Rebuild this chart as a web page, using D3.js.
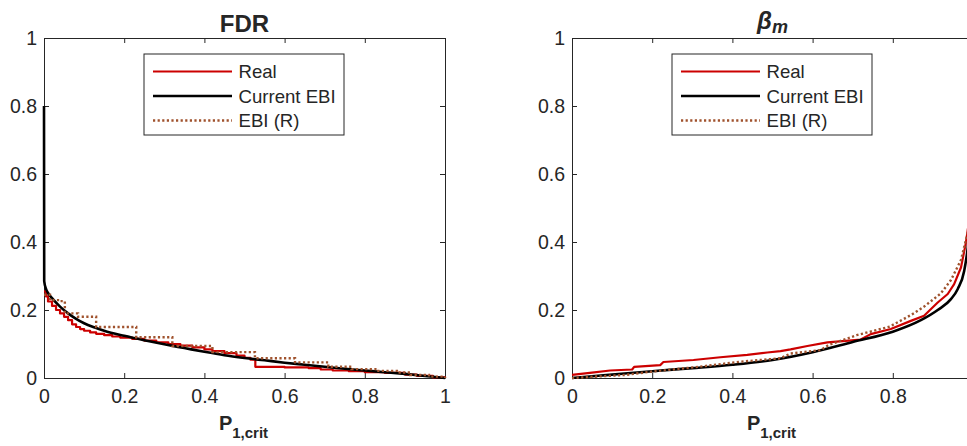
<!DOCTYPE html>
<html>
<head>
<meta charset="utf-8">
<script src="https://cdn.jsdelivr.net/npm/d3@7"></script>
<style>
  html, body { margin: 0; padding: 0; background: #fff; overflow: hidden; }
  svg { display: block; }
  text { font-family: "Liberation Sans", Arial, sans-serif; fill: #262626; }
</style>
</head>
<body>
<svg id="chart" width="967" height="446"></svg>
<script>
// ---------------- data ----------------
const xTicks = [0, 0.2, 0.4, 0.6, 0.8, 1];
const yTicks = [0, 0.2, 0.4, 0.6, 0.8, 1];
const tickLabels = ["0", "0.2", "0.4", "0.6", "0.8", "1"];
const seriesNames = ["Real", "Current EBI", "EBI (R)"];

// Left panel: FDR vs P1,crit
const fdrReal = [[0,0.255],[0.005,0.24],[0.01,0.225],[0.02,0.212],[0.03,0.2],[0.04,0.19],[0.05,0.18],
  [0.06,0.17],[0.07,0.158],[0.08,0.15],[0.09,0.144],[0.1,0.139],[0.115,0.134],[0.13,0.13],[0.15,0.126],
  [0.17,0.122],[0.19,0.119],[0.22,0.115],[0.25,0.11],[0.28,0.105],[0.31,0.1],[0.34,0.095],[0.37,0.09],
  [0.4,0.084],[0.42,0.079],[0.45,0.073],[0.48,0.066],[0.5,0.059],[0.515,0.054],[0.527,0.033],[0.6,0.031],
  [0.66,0.029],[0.69,0.025],[0.72,0.022],[0.76,0.02],[0.8,0.017],[0.85,0.015],[0.9,0.01],[0.93,0.006],
  [0.97,0.002],[1,0]];
const fdrCurrent = [[0,0.8],[0.0005,0.285],[0.005,0.262],[0.01,0.25],[0.02,0.235],[0.04,0.21],[0.06,0.19],
  [0.08,0.174],[0.1,0.161],[0.125,0.149],[0.15,0.139],[0.2,0.124],[0.25,0.111],[0.3,0.099],[0.35,0.088],
  [0.4,0.077],[0.45,0.067],[0.5,0.059],[0.55,0.052],[0.6,0.045],[0.65,0.039],[0.7,0.033],[0.75,0.027],
  [0.8,0.022],[0.85,0.017],[0.9,0.012],[0.95,0.006],[1,0]];
const fdrEbiR = [[0,0.245],[0.015,0.229],[0.04,0.226],[0.052,0.19],[0.085,0.18],[0.13,0.15],[0.23,0.12],
  [0.32,0.094],[0.42,0.076],[0.526,0.058],[0.626,0.046],[0.709,0.033],[0.767,0.026],[0.83,0.021],
  [0.88,0.016],[0.913,0.009],[0.96,0.004],[1,0]];

// Right panel: beta_m vs P1,crit
const betaReal = [[0,0.009],[0.05,0.016],[0.095,0.022],[0.15,0.025],[0.155,0.033],[0.22,0.038],[0.228,0.047],
  [0.303,0.053],[0.37,0.061],[0.437,0.068],[0.487,0.075],[0.52,0.079],[0.545,0.084],[0.587,0.094],
  [0.637,0.105],[0.72,0.113],[0.745,0.129],[0.795,0.144],[0.845,0.168],[0.878,0.183],[0.912,0.222],
  [0.937,0.247],[0.953,0.276],[0.97,0.325],[0.982,0.396],[0.995,0.5],[1,0.6]];
const betaCurrent = [[0,0],[0.1,0.01],[0.2,0.02],[0.3,0.029],[0.4,0.039],[0.5,0.053],[0.6,0.076],
  [0.7,0.106],[0.8,0.136],[0.87,0.17],[0.912,0.2],[0.945,0.232],[0.962,0.262],[0.978,0.315],
  [0.987,0.385],[0.995,0.5],[1,0.65]];
const betaEbiR = [[0,0],[0.133,0.009],[0.2,0.019],[0.317,0.033],[0.42,0.048],[0.52,0.058],[0.545,0.072],
  [0.62,0.082],[0.64,0.097],[0.71,0.126],[0.792,0.151],[0.845,0.185],[0.878,0.21],[0.92,0.249],
  [0.945,0.288],[0.97,0.347],[0.987,0.428],[1,0.55]];

// ---------------- drawing ----------------
const colors = { real: "rgb(204,0,0)", current: "#000000", ebir: "rgb(160,82,45)" };
const axisColor = "#262626";
const svg = d3.select("#chart");

function panel(opts) {
  const x = d3.scaleLinear().domain([0, 1]).range([opts.left, opts.left + 401]);
  const y = d3.scaleLinear().domain([0, 1]).range([378, 38]);
  const g = svg.append("g");
  const clipId = "clip" + opts.id;
  svg.append("clipPath").attr("id", clipId).append("rect")
    .attr("x", x(0) - 2).attr("y", y(1) - 2).attr("width", x(1) - x(0) + 4).attr("height", y(0) - y(1) + 4);

  const fmt = (d, i) => (opts.hideLastX && i === xTicks.length - 1) ? "" : tickLabels[i];
  const fmtY = (d, i) => tickLabels[i];
  const styleAxis = sel => {
    sel.select(".domain").attr("stroke", axisColor).attr("stroke-width", 1);
    sel.selectAll(".tick line").attr("stroke", axisColor).attr("stroke-width", 1);
    sel.selectAll("text").attr("font-family", "'Liberation Sans', Arial, sans-serif")
      .attr("font-size", 19.5).attr("fill", axisColor);
  };
  g.append("g").attr("transform", `translate(0,${y(0)})`)
    .call(d3.axisBottom(x).tickValues(xTicks).tickFormat(fmt).tickSizeInner(-5).tickSizeOuter(0).tickPadding(11))
    .call(styleAxis);
  g.append("g").attr("transform", `translate(0,${y(1)})`)
    .call(d3.axisTop(x).tickValues(xTicks).tickFormat("").tickSizeInner(-5).tickSizeOuter(0))
    .call(styleAxis);
  g.append("g").attr("transform", `translate(${x(0)},0)`)
    .call(d3.axisLeft(y).tickValues(yTicks).tickFormat(fmtY).tickSizeInner(-5).tickSizeOuter(0).tickPadding(7))
    .call(styleAxis);
  g.append("g").attr("transform", `translate(${x(1)},0)`)
    .call(d3.axisRight(y).tickValues(yTicks).tickFormat("").tickSizeInner(-5).tickSizeOuter(0))
    .call(styleAxis);

  const lines = g.append("g").attr("clip-path", `url(#${clipId})`);
  const step = d3.line().x(d => x(d[0])).y(d => y(d[1])).curve(opts.stepped ? d3.curveStepAfter : d3.curveLinear);
  const smooth = d3.line().x(d => x(d[0])).y(d => y(d[1])).curve(d3.curveMonotoneX);
  lines.append("path").datum(opts.real).attr("d", step).attr("fill", "none")
    .attr("stroke", colors.real).attr("stroke-width", 2.2).attr("stroke-linejoin", "round");
  lines.append("path").datum(opts.current).attr("d", smooth).attr("fill", "none")
    .attr("stroke", colors.current).attr("stroke-width", 2.6);
  lines.append("path").datum(opts.ebir).attr("d", step).attr("fill", "none")
    .attr("stroke", colors.ebir).attr("stroke-width", 2.4).attr("stroke-dasharray", "2.2,2.4");

  // legend
  const lx = opts.left + 100, ly = 54;
  const leg = g.append("g");
  leg.append("rect").attr("x", lx).attr("y", ly).attr("width", 200).attr("height", 81)
    .attr("fill", "#fff").attr("stroke", axisColor).attr("stroke-width", 1);
  const legStyles = [
    { c: colors.real, w: 2.2, dash: null },
    { c: colors.current, w: 2.6, dash: null },
    { c: colors.ebir, w: 2.4, dash: "2.2,2.4" }
  ];
  seriesNames.forEach((name, i) => {
    const yy = ly + 17.5 + i * 24.5;
    const s = legStyles[i];
    leg.append("line").attr("x1", lx + 9).attr("x2", lx + 88).attr("y1", yy).attr("y2", yy)
      .attr("stroke", s.c).attr("stroke-width", s.w).attr("stroke-dasharray", s.dash);
    leg.append("text").attr("x", lx + 94.5).attr("y", yy).attr("dy", "0.35em")
      .attr("font-size", 18.6).text(name);
  });

  // x label
  const xl = g.append("text").attr("x", (x(0) + x(1)) / 2 - 1).attr("y", 430)
    .attr("text-anchor", "middle").attr("font-weight", "bold");
  xl.append("tspan").attr("font-size", 20).text("P");
  xl.append("tspan").attr("font-size", 15).attr("dy", 8).text("1,crit");

  // title
  opts.title(g, (x(0) + x(1)) / 2);
}

panel({
  id: "L", left: 44, stepped: true, real: fdrReal, current: fdrCurrent, ebir: fdrEbiR,
  title: (g, cx) => g.append("text").attr("x", cx).attr("y", 32).attr("text-anchor", "middle")
    .attr("font-weight", "bold").attr("font-size", 24).attr("fill", "#000").text("FDR")
});
panel({
  id: "R", left: 572, stepped: false, hideLastX: true, real: betaReal, current: betaCurrent, ebir: betaEbiR,
  title: (g, cx) => {
    const t = g.append("text").attr("x", cx).attr("y", 29).attr("text-anchor", "middle")
      .attr("font-family", "'DejaVu Serif', serif").attr("font-style", "italic")
      .attr("font-weight", "bold").attr("fill", "#000");
    t.append("tspan").attr("font-size", 24).text("β");
    t.append("tspan").attr("font-size", 18).attr("dy", 4).text("m");
  }
});
</script>
</body>
</html>
